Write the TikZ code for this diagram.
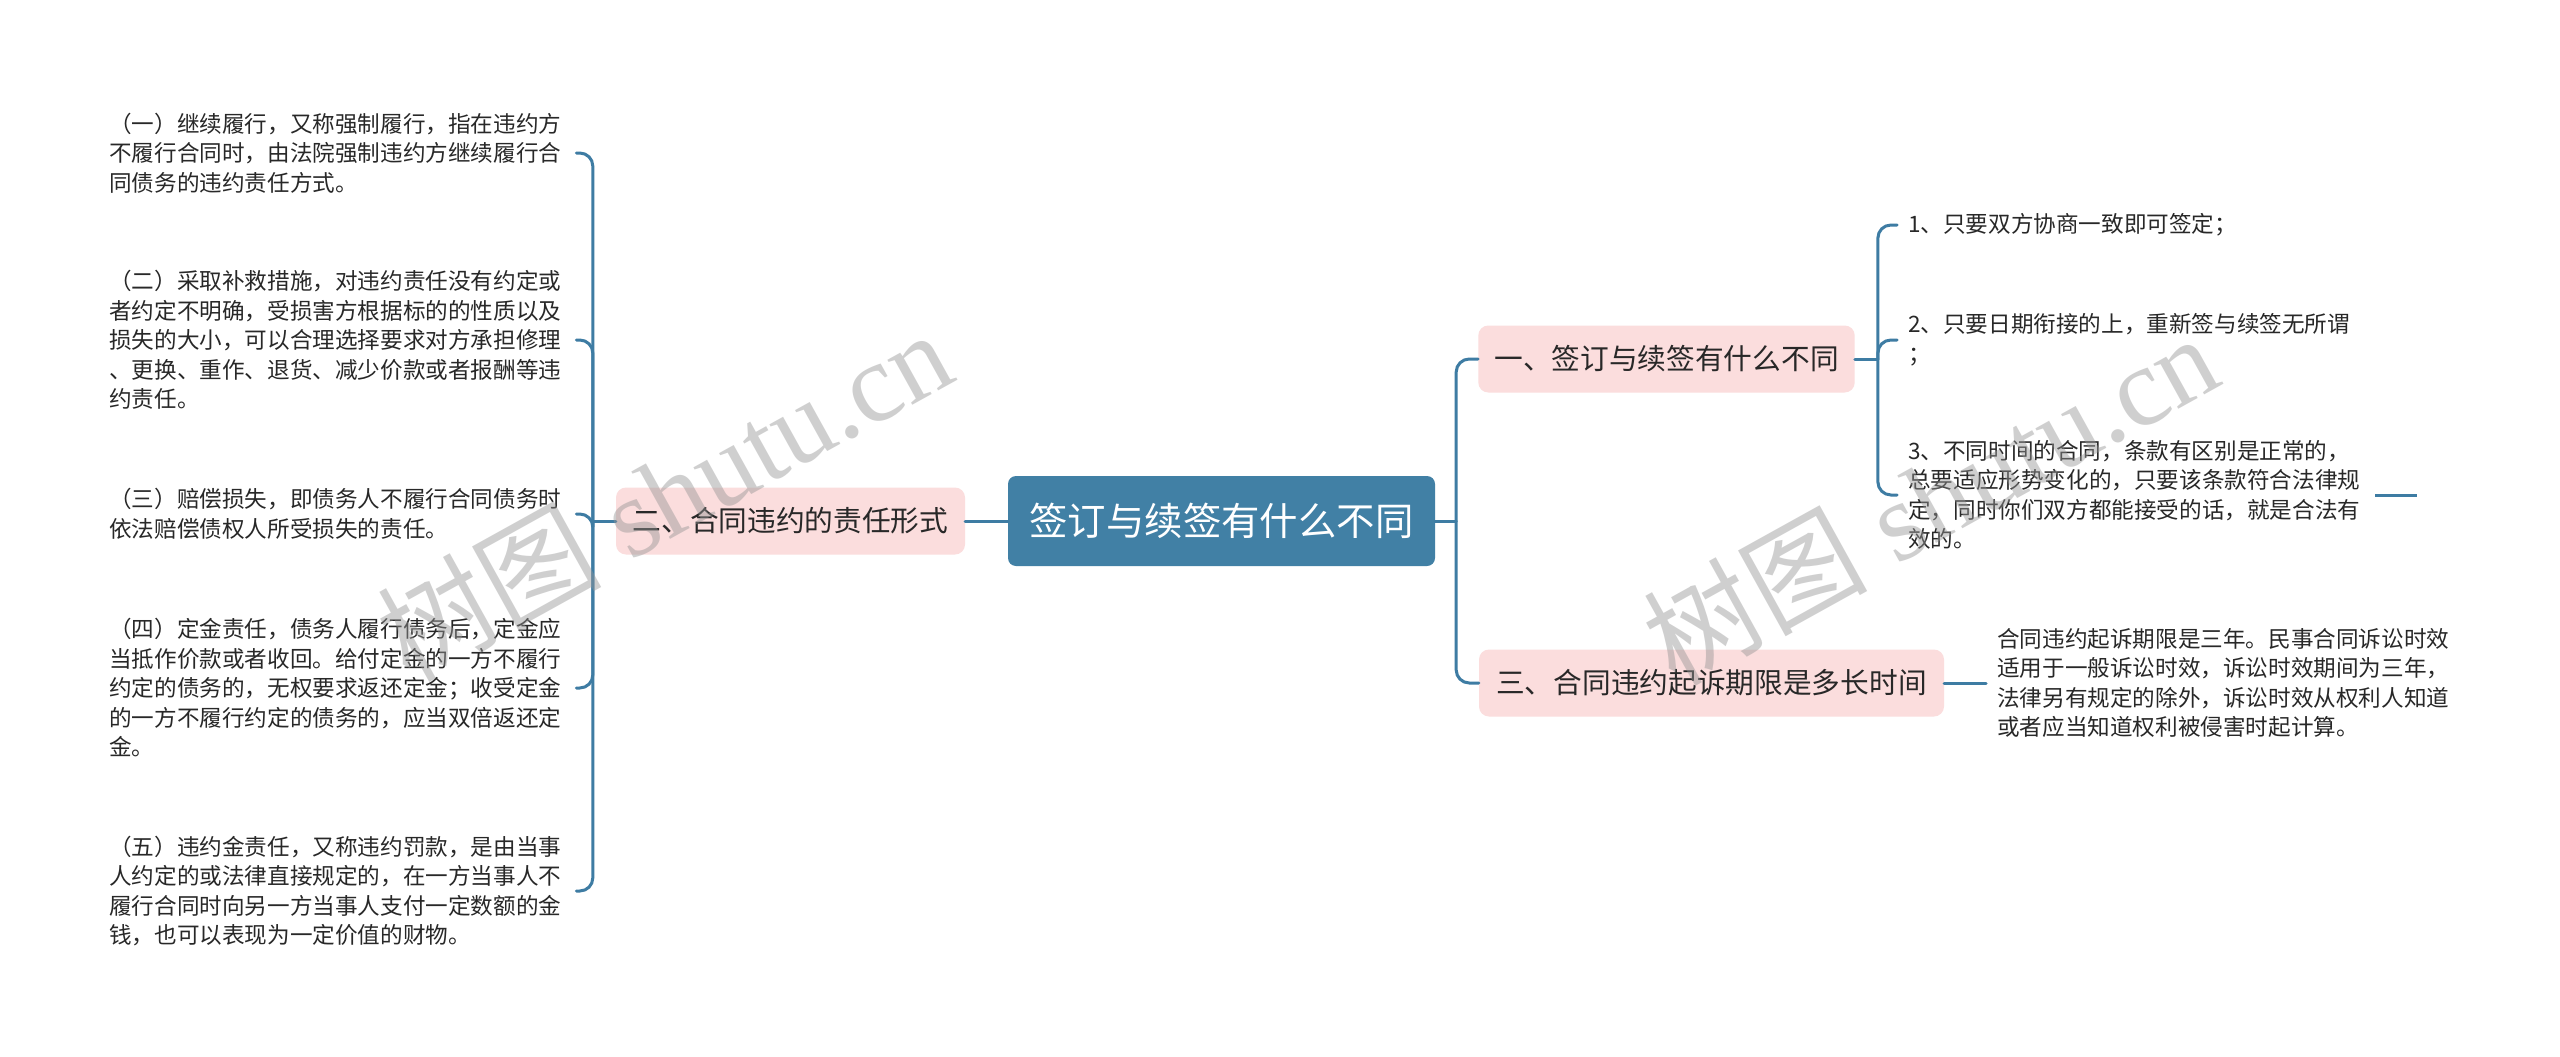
\documentclass[tikz,border=0pt]{standalone}
\usepackage{fontspec}
\newfontfamily\cjk{Noto Sans CJK SC}
\newfontfamily\wmserif{Liberation Serif}
\usetikzlibrary{calc}
\definecolor{linec}{RGB}{62,124,163}
\definecolor{rootc}{RGB}{65,128,165}
\definecolor{pinkc}{RGB}{251,221,221}
\definecolor{txtc}{RGB}{40,40,40}
\definecolor{wmc}{RGB}{150,150,150}
\begin{document}
\begin{tikzpicture}[x=1pt,y=-1pt,
  connector/.style={draw=linec, line width=3pt, rounded corners=13pt, line cap=round},
  rootbox/.style={fill=rootc, rounded corners=8pt, text=white, minimum height=90pt, inner xsep=20pt, font=\cjk\fontsize{38.4}{46}\selectfont},
  branchbox/.style={fill=pinkc, rounded corners=10pt, text=txtc, minimum height=67pt, inner xsep=16pt, font=\cjk\fontsize{28.7}{34}\selectfont},
  leaf/.style={text=txtc, align=left, text width=456pt, inner xsep=11pt, inner ysep=0pt, font=\cjk\fontsize{22.6}{29.5}\selectfont},
  watermark/.style={text=wmc, text opacity=0.45, rotate=29, font=\wmserif\fontsize{112}{112}\selectfont},
]
\useasboundingbox (0,0) rectangle (2560,1057);
\fill[white] (0,0) rectangle (2560,1057);

% root and branches
\node[rootbox, minimum width=427pt] (root) at (1221.5,521) {签订与续签有什么不同};
\node[branchbox, minimum width=349pt] (b2) at (790.5,521) {二、合同违约的责任形式};
\node[branchbox, minimum width=375pt] (b1) at (1666.5,359) {一、签订与续签有什么不同};
\node[branchbox, minimum width=465pt] (b3) at (1711.5,683) {三、合同违约起诉期限是多长时间};

% left leaves
\node[leaf, anchor=west] (l1) at (98,153) {（一）继续履行，又称强制履行，指在违约方\\不履行合同时，由法院强制违约方继续履行合\\同债务的违约责任方式。};
\node[leaf, anchor=west] (l2) at (98,340) {（二）采取补救措施，对违约责任没有约定或\\者约定不明确，受损害方根据标的的性质以及\\损失的大小，可以合理选择要求对方承担修理\\、更换、重作、退货、减少价款或者报酬等违\\约责任。};
\node[leaf, anchor=west] (l3) at (98,514) {（三）赔偿损失，即债务人不履行合同债务时\\依法赔偿债权人所受损失的责任。};
\node[leaf, anchor=west] (l4) at (98,688) {（四）定金责任，债务人履行债务后，定金应\\当抵作价款或者收回。给付定金的一方不履行\\约定的债务的，无权要求返还定金；收受定金\\的一方不履行约定的债务的，应当双倍返还定\\金。};
\node[leaf, anchor=west] (l5) at (98,891) {（五）违约金责任，又称违约罚款，是由当事\\人约定的或法律直接规定的，在一方当事人不\\履行合同时向另一方当事人支付一定数额的金\\钱，也可以表现为一定价值的财物。};

% right leaves
\node[leaf, anchor=west] (r1) at (1897,225) {1、只要双方协商一致即可签定；};
\node[leaf, anchor=west] (r2) at (1897,340) {2、只要日期衔接的上，重新签与续签无所谓\\；};
\node[leaf, anchor=west] (r3) at (1897,495) {3、不同时间的合同，条款有区别是正常的，\\总要适应形势变化的，只要该条款符合法律规\\定，同时你们双方都能接受的话，就是合法有\\效的。};
\node[leaf, anchor=west] (t1) at (1986,683) {合同违约起诉期限是三年。民事合同诉讼时效\\适用于一般诉讼时效，诉讼时效期间为三年，\\法律另有规定的除外，诉讼时效从权利人知道\\或者应当知道权利被侵害时起计算。};

% junction coordinates
\coordinate (lj) at ($(b2.west)+(-23,0)$);
\coordinate (rj) at ($(root.east)+(21,0)$);
\coordinate (bj) at ($(b1.east)+(23,0)$);
\coordinate (r3stub) at ($(r3.east)+(42,0)$);

% connectors
\draw[connector] (root.west) -- (b2.east);
\draw[connector] (b2.west) -- (lj);
\foreach \n in {l1,l2,l3,l4,l5} { \draw[connector] (\n.east) -| (lj); }
\draw[connector] (root.east) -- (rj);
\draw[connector] (b1.west) -| (rj);
\draw[connector] (b3.west) -| (rj);
\draw[connector] (b1.east) -- (bj);
\foreach \n in {r1,r2,r3} { \draw[connector] (\n.west) -| (bj); }
\draw[connector] (b3.east) -- (t1.west);
\draw[connector, line cap=butt] (r3.east) -- (r3stub);

% watermarks
\node[watermark] (wm1) at (664,494) {{\cjk 树图} shutu.cn};
\node[watermark] (wm2) at (1930,498) {{\cjk 树图} shutu.cn};
\end{tikzpicture}
\end{document}
